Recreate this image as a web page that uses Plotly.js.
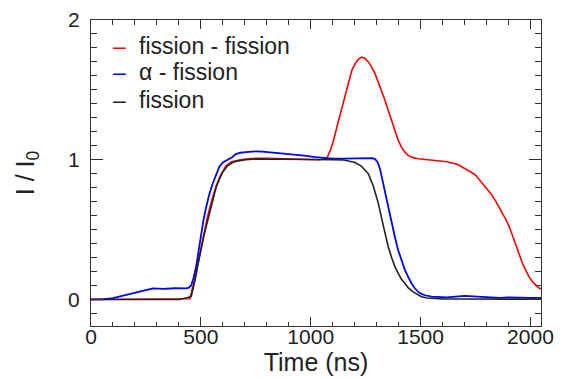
<!DOCTYPE html>
<html>
<head>
<meta charset="utf-8">
<script src="https://cdn.plot.ly/plotly-3.0.1.min.js"></script>
<style>html,body{margin:0;padding:0;background:#fff;}#chart{width:571px;height:379px;}</style>
</head>
<body>
<div id="chart"></div>
<script>
// Series names
const seriesNames = ["fission - fission", "\u03b1 - fission", "fission"];
const seriesColors = ["#ff0000", "#0000ff", "#222222"];

// fission - fission (red)
const ffTime = [0,100,200,300,400,450,470,490,508,530,550,569,590,614,640,660,680,704,750,800,900,1000,1040,1060,1074,1090,1104,1120,1142,1157,1172,1187,1202,1217,1232,1247,1262,1277,1293,1308,1323,1338,1353,1368,1383,1398,1413,1428,1443,1466,1489,1534,1579,1620,1670,1700,1730,1750,1775,1798,1820,1843,1866,1885,1904,1920,1934,1950,1964,1980,1994,2010,2024,2036,2048];
const ffVal  = [0,0,0,0,0,0.005,0.13,0.28,0.43,0.59,0.71,0.81,0.89,0.955,0.985,0.995,1.0,1.005,1.01,1.01,1.005,1.0,1.0,1.005,1.014,1.07,1.14,1.24,1.376,1.47,1.566,1.64,1.686,1.72,1.735,1.725,1.70,1.665,1.614,1.555,1.495,1.425,1.352,1.28,1.209,1.14,1.09,1.055,1.031,1.015,1.007,1.0,0.99,0.985,0.966,0.94,0.91,0.89,0.84,0.80,0.757,0.70,0.638,0.58,0.52,0.45,0.376,0.31,0.257,0.205,0.161,0.125,0.102,0.085,0.075];

// alpha - fission (blue)
const afTime = [0,50,100,150,207,250,282,330,380,433,445,456,466,478,490,501,512,524,538,554,569,584,600,629,644,659,680,704,730,750,780,820,870,920,970,1021,1060,1100,1150,1200,1250,1280,1293,1305,1315,1323,1338,1353,1368,1383,1398,1413,1429,1444,1459,1474,1489,1504,1520,1550,1579,1620,1660,1700,1740,1780,1820,1860,1900,1950,2000,2048];
const afVal  = [0.0,0.0,0.01,0.03,0.054,0.068,0.079,0.075,0.08,0.079,0.085,0.10,0.15,0.23,0.35,0.47,0.57,0.66,0.75,0.83,0.89,0.95,0.98,1.005,1.02,1.04,1.05,1.055,1.06,1.06,1.058,1.052,1.047,1.04,1.03,1.019,1.012,1.008,1.008,1.008,1.012,1.012,1.005,0.98,0.936,0.876,0.77,0.66,0.55,0.447,0.352,0.28,0.209,0.16,0.114,0.08,0.054,0.04,0.03,0.02,0.018,0.015,0.02,0.025,0.022,0.018,0.015,0.012,0.015,0.012,0.012,0.012];

// fission (black)
const fTime = [0,100,200,300,400,456,475,493,505,516,527,538,553,569,584,599,620,644,670,704,750,800,900,1000,1100,1150,1180,1202,1230,1262,1285,1308,1330,1353,1368,1383,1398,1413,1429,1443,1466,1485,1504,1530,1550,1600,1700,1800,1900,2000,2048];
const fVal  = [0,0,0,0,0,0.02,0.15,0.30,0.40,0.47,0.54,0.61,0.71,0.80,0.86,0.91,0.955,0.98,0.992,1.0,1.005,1.005,1.002,1.0,1.0,0.998,0.99,0.98,0.955,0.90,0.81,0.686,0.53,0.376,0.30,0.235,0.186,0.145,0.114,0.085,0.054,0.035,0.019,0.01,0.007,0.004,0.003,0.003,0.002,0.002,0.002];

const traces = [
  {x: ffTime, y: ffVal, name: seriesNames[0], type: 'scatter', mode: 'lines', line: {color: seriesColors[0], width: 1.6}},
  {x: afTime, y: afVal, name: seriesNames[1], type: 'scatter', mode: 'lines', line: {color: seriesColors[1], width: 1.8}},
  {x: fTime, y: fVal, name: seriesNames[2], type: 'scatter', mode: 'lines', line: {color: seriesColors[2], width: 1.6}}
];

const FONT = '"Liberation Sans", Arial, Helvetica, sans-serif';

// Legend drawn as annotations (ROOT-style short line swatch + label)
const legendRowsY = [0.916, 0.829, 0.739];
const annotations = [];
seriesNames.forEach((nm, i) => {
  annotations.push({xref: 'paper', yref: 'paper', x: 0.064, y: legendRowsY[i], xanchor: 'center', yanchor: 'middle',
    text: '\u2013', showarrow: false, font: {size: 23, family: FONT, color: seriesColors[i]}});
  annotations.push({xref: 'paper', yref: 'paper', x: 0.102, y: legendRowsY[i], xanchor: 'left', yanchor: 'middle',
    text: nm, showarrow: false, font: {size: 23, family: FONT, color: '#222'}});
});

const layout = {
  width: 571, height: 379,
  margin: {l: 91, r: 30, t: 20, b: 53},
  paper_bgcolor: '#fff', plot_bgcolor: '#fff',
  font: {family: FONT, color: '#222'},
  showlegend: false,
  annotations: annotations,
  xaxis: {
    range: [0, 2048], tickmode: 'linear', tick0: 0, dtick: 500,
    ticks: 'inside', ticklen: 9, tickcolor: '#333',
    showline: true, linecolor: '#333', mirror: 'allticks',
    gridcolor: 'rgba(0,0,0,0)', zerolinecolor: 'rgba(0,0,0,0)',
    tickfont: {size: 21, family: FONT, color: '#222'},
    ticklabelstandoff: -8,
    minor: {dtick: 100, ticks: 'inside', ticklen: 4.5, tickcolor: '#333'},
    title: {text: 'Time (ns)', font: {size: 25, family: FONT, color: '#222'}, standoff: 4}
  },
  yaxis: {
    range: [-0.19, 2.0], tickmode: 'linear', tick0: 0, dtick: 1,
    ticks: 'inside', ticklen: 12, tickcolor: '#333',
    showline: true, linecolor: '#333', mirror: 'allticks',
    gridcolor: 'rgba(0,0,0,0)', zerolinecolor: 'rgba(0,0,0,0)',
    tickfont: {size: 21, family: FONT, color: '#222'},
    ticklabelstandoff: 6,
    minor: {dtick: 0.1, ticks: 'inside', ticklen: 6, tickcolor: '#333'},
    title: {text: 'I / I<sub>0</sub>', font: {size: 25, family: FONT, color: '#222'}, standoff: 26}
  }
};

Plotly.newPlot('chart', traces, layout, {displayModeBar: false, staticPlot: true});
</script>
</body>
</html>
